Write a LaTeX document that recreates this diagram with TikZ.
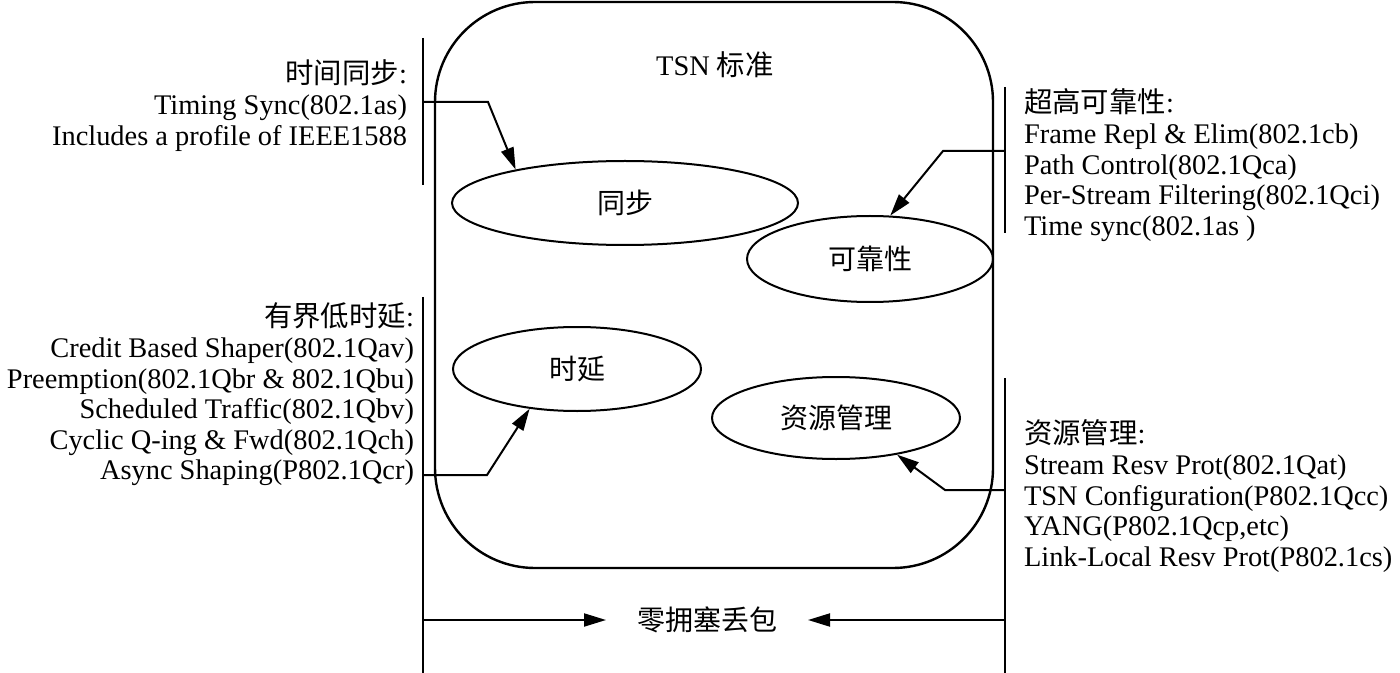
\documentclass[tikz,border=0pt]{standalone}
\usepackage{fontspec}
\setmainfont{Liberation Serif}
\newfontfamily\cjk{Noto Sans CJK SC}
\usetikzlibrary{arrows.meta,shapes.geometric}

\begin{document}
\begin{tikzpicture}[x=0.5pt, y=-0.5pt, line width=1pt,
    every node/.style={font=\fontsize{14.2}{15.3}\selectfont},
    goal/.style={draw, ellipse, inner sep=0pt, font=\cjk\fontsize{14}{15}\selectfont},
    arr/.style={-{Triangle[length=11pt,width=6.5pt]}},
    infol/.style={align=right, anchor=north east, inner sep=0pt},
    infor/.style={align=left, anchor=north west, inner sep=0pt}]
    \useasboundingbox (0,0) rectangle (1400,673);
    \draw[line width=1.2pt, rounded corners=50pt] (435,2) rectangle (993,568);
    \node (title) at (715,65) {TSN {\cjk 标准}};
    \node[goal, minimum width=173pt, minimum height=42pt] (sync) at (625,203) {同步};
    \node[goal, minimum width=123pt, minimum height=43pt] (rel) at (870,259) {可靠性};
    \node[goal, minimum width=124pt, minimum height=42pt] (lat) at (577,369) {时延};
    \node[goal, minimum width=124pt, minimum height=41pt] (res) at (836,418) {资源管理};
    \draw (423,38) -- (423,185);
    \draw (423,297) -- (423,673);
    \draw (1005,87) -- (1005,233);
    \draw (1005,378) -- (1005,673);
    \node[infol] (synctxt) at (408,59) {{\cjk 时间同步}:\\Timing Sync(802.1as)\\Includes a profile of IEEE1588};
    \node[infol] (lattxt) at (415,302) {{\cjk 有界低时延}:\\Credit Based Shaper(802.1Qav)\\Preemption(802.1Qbr \& 802.1Qbu)\\Scheduled Traffic(802.1Qbv)\\Cyclic Q-ing \& Fwd(802.1Qch)\\Async Shaping(P802.1Qcr)};
    \node[infor] (reltxt) at (1023,88) {{\cjk 超高可靠性}:\\Frame Repl \& Elim(802.1cb)\\Path Control(802.1Qca)\\Per-Stream Filtering(802.1Qci)\\Time sync(802.1as )};
    \node[infor] (restxt) at (1023,419) {{\cjk 资源管理}:\\Stream Resv Prot(802.1Qat)\\TSN Configuration(P802.1Qcc)\\YANG(P802.1Qcp,etc)\\Link-Local Resv Prot(P802.1cs)};
    \coordinate (syncsrc) at (423,102);
    \coordinate (relsrc) at (1005,151);
    \coordinate (latsrc) at (423,475);
    \coordinate (ressrc) at (1005,490);
    \draw[arr] (syncsrc) -- (488,102) -- (sync.163);
    \draw[arr] (relsrc) -- (943,151) -- (rel.65);
    \draw[arr] (latsrc) -- (487,475) -- (lat.220);
    \draw[arr] (ressrc) -- (945,490) -- (res.-31);
    \node[font=\cjk\fontsize{14}{15}\selectfont, inner xsep=15pt] (loss) at (707,620) {零拥塞丢包};
    \coordinate (lossl) at (423,620);
    \coordinate (lossr) at (1005,620);
    \draw[arr] (lossl) -- (loss.west);
    \draw[arr] (lossr) -- (loss.east);
\end{tikzpicture}
\end{document}
